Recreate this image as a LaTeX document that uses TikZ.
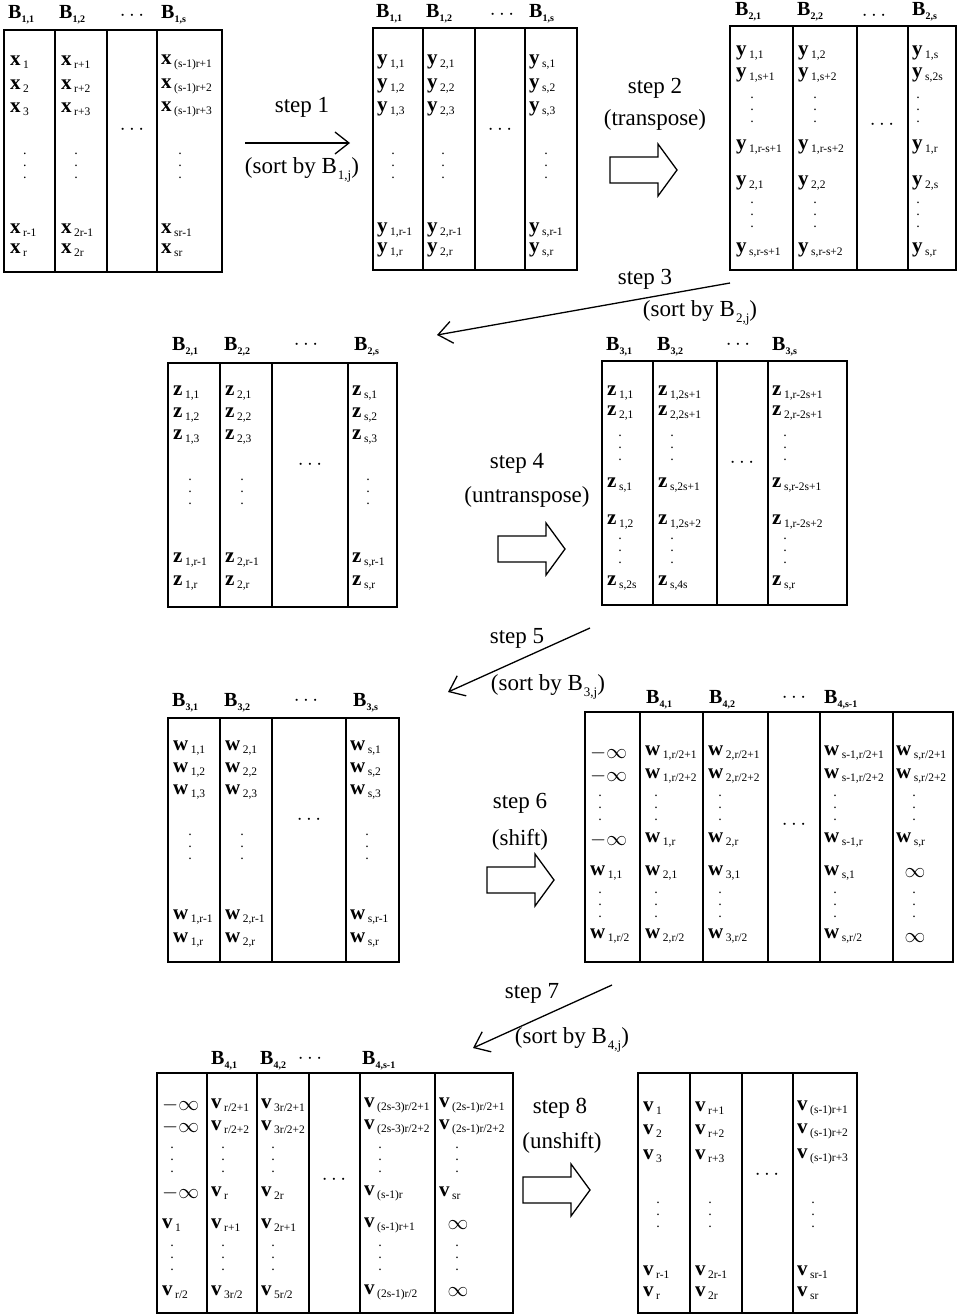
\documentclass[tikz,border=0pt]{standalone}
\usepackage{fontspec}
\setmainfont{Liberation Serif}
\usetikzlibrary{arrows.meta}

\newcommand{\cellv}[2]{\textbf{#1}\kern2.5pt\raisebox{-3pt}{\fontsize{11.5}{11.5}\selectfont #2}}
\newcommand{\hdrB}[1]{\textbf{B}\raisebox{-4pt}{\fontsize{10}{10}\selectfont\bfseries #1}}
\newcommand{\sortB}[1]{B\kern1pt\raisebox{-6pt}{\fontsize{13}{13}\selectfont #1}}
\newcommand{\vdotz}{\vbox{\baselineskip=12pt\lineskiplimit=0pt\hbox{.}\hbox{.}\hbox{.}}}

\begin{document}
\begin{tikzpicture}[x=1pt, y=-1pt,
    box/.style={line width=1.3pt},
    cell/.style={anchor=west, inner sep=0pt, font=\fontsize{21}{23}\selectfont},
    hdr/.style={anchor=west, inner sep=0pt, font=\fontsize{20}{22}\selectfont},
    ell/.style={inner sep=0pt, font=\fontsize{20}{22}\selectfont},
    dts/.style={inner sep=0pt, font=\fontsize{14}{14}\selectfont},
    lbl/.style={inner sep=0pt, font=\fontsize{23}{26}\selectfont},
    sortarrow/.style={line width=1.3pt, -{Straight Barb[length=14pt,width=22pt,line width=1.3pt]}},
    fatarrow/.pic={\draw[line width=1.3pt] (0,-13) -- (48,-13) -- (48,-26) -- (67,0) -- (48,26) -- (48,13) -- (0,13) -- cycle;}]
  \useasboundingbox (0,0) rectangle (958,1316);

  %% input x
  \draw[box] (4,30) rectangle (222,272);
  \foreach \x in {55,107,157} \draw[box] (\x,30) -- (\x,272);
  \node[hdr] (a-h1) at (8,15) {\hdrB{1,1}};
  \node[hdr] (a-h2) at (59,15) {\hdrB{1,2}};
  \node[ell] (a-h3) at (132,16) {$\cdots$};
  \node[hdr] (a-h4) at (161,15) {\hdrB{1,s}};
  \foreach \y/\txt [count=\i] in {62/{\cellv{x}{1}},86/{\cellv{x}{2}},109/{\cellv{x}{3}},230/{\cellv{x}{r-1}},250/{\cellv{x}{r}}}
    \node[cell] (a-c1-\i) at (10,\y) {\txt};
  \foreach \y/\txt [count=\i] in {62/{\cellv{x}{r+1}},86/{\cellv{x}{r+2}},109/{\cellv{x}{r+3}},230/{\cellv{x}{2r-1}},250/{\cellv{x}{2r}}}
    \node[cell] (a-c2-\i) at (61,\y) {\txt};
  \foreach \y/\txt [count=\i] in {62/{\cellv{x}{(s-1)r+1}},86/{\cellv{x}{(s-1)r+2}},109/{\cellv{x}{(s-1)r+3}},230/{\cellv{x}{sr-1}},250/{\cellv{x}{sr}}}
    \node[cell] (a-c4-\i) at (161,\y) {\txt};
  \foreach \x [count=\i] in {25,76,180} \node[dts] (a-d\i) at (\x,166) {\vdotz};
  \node[ell] (a-e) at (132,130) {$\cdots$};

  %% step 1
  \coordinate (s1a) at (245,143);
  \coordinate (s1b) at (350,143);
  \draw[sortarrow] (s1a) -- (s1b);
  \node[lbl] (s1t) at (302,107) {step 1};
  \node[lbl] (s1s) at (302,170) {(sort by \sortB{1,j})};

  %% y
  \draw[box] (373,28) rectangle (577,270);
  \foreach \x in {423,475,525} \draw[box] (\x,28) -- (\x,270);
  \node[hdr] (b-h1) at (376,14) {\hdrB{1,1}};
  \node[hdr] (b-h2) at (426,14) {\hdrB{1,2}};
  \node[ell] (b-h3) at (502,15) {$\cdots$};
  \node[hdr] (b-h4) at (529,14) {\hdrB{1,s}};
  \foreach \y/\txt [count=\i] in {62/{\cellv{y}{1,1}},86/{\cellv{y}{1,2}},109/{\cellv{y}{1,3}},230/{\cellv{y}{1,r-1}},250/{\cellv{y}{1,r}}}
    \node[cell] (b-c1-\i) at (377,\y) {\txt};
  \foreach \y/\txt [count=\i] in {62/{\cellv{y}{2,1}},86/{\cellv{y}{2,2}},109/{\cellv{y}{2,3}},230/{\cellv{y}{2,r-1}},250/{\cellv{y}{2,r}}}
    \node[cell] (b-c2-\i) at (427,\y) {\txt};
  \foreach \y/\txt [count=\i] in {62/{\cellv{y}{s,1}},86/{\cellv{y}{s,2}},109/{\cellv{y}{s,3}},230/{\cellv{y}{s,r-1}},250/{\cellv{y}{s,r}}}
    \node[cell] (b-c4-\i) at (529,\y) {\txt};
  \foreach \x [count=\i] in {393,443,546} \node[dts] (b-d\i) at (\x,166) {\vdotz};
  \node[ell] (b-e) at (500,130) {$\cdots$};

  %% step 2
  \node[lbl] (s2t) at (655,88) {step 2};
  \node[lbl] (s2s) at (655,120) {(transpose)};
  \pic (s2p) at (610,170) {fatarrow};

  %% y transposed
  \draw[box] (730,26) rectangle (956,270);
  \foreach \x in {793,857,908} \draw[box] (\x,26) -- (\x,270);
  \node[hdr] (c-h1) at (735,12) {\hdrB{2,1}};
  \node[hdr] (c-h2) at (797,12) {\hdrB{2,2}};
  \node[ell] (c-h3) at (874,16) {$\cdots$};
  \node[hdr] (c-h4) at (912,12) {\hdrB{2,s}};
  \foreach \y/\txt [count=\i] in {53/{\cellv{y}{1,1}},75/{\cellv{y}{1,s+1}},147/{\cellv{y}{1,r-s+1}},183/{\cellv{y}{2,1}},250/{\cellv{y}{s,r-s+1}}}
    \node[cell] (c-c1-\i) at (736,\y) {\txt};
  \foreach \y/\txt [count=\i] in {53/{\cellv{y}{1,2}},75/{\cellv{y}{1,s+2}},147/{\cellv{y}{1,r-s+2}},183/{\cellv{y}{2,2}},250/{\cellv{y}{s,r-s+2}}}
    \node[cell] (c-c2-\i) at (798,\y) {\txt};
  \foreach \y/\txt [count=\i] in {53/{\cellv{y}{1,s}},75/{\cellv{y}{s,2s}},147/{\cellv{y}{1,r}},183/{\cellv{y}{2,s}},250/{\cellv{y}{s,r}}}
    \node[cell] (c-c4-\i) at (912,\y) {\txt};
  \foreach \x [count=\i] in {752,815,918} {
    \node[dts] (c-d\i) at (\x,110) {\vdotz};
    \node[dts] (c-f\i) at (\x,215) {\vdotz};
  }
  \node[ell] (c-e) at (882,125) {$\cdots$};

  %% step 3
  \coordinate (s3a) at (730,283);
  \coordinate (s3b) at (437,335);
  \draw[sortarrow] (s3a) -- (s3b);
  \node[lbl] (s3t) at (645,279) {step 3};
  \node[lbl] (s3s) at (700,313) {(sort by \sortB{2,j})};

  %% z
  \draw[box] (168,363) rectangle (397,607);
  \foreach \x in {220,272,348} \draw[box] (\x,363) -- (\x,607);
  \node[hdr] (d-h1) at (172,347) {\hdrB{2,1}};
  \node[hdr] (d-h2) at (224,347) {\hdrB{2,2}};
  \node[ell] (d-h3) at (306,345) {$\cdots$};
  \node[hdr] (d-h4) at (354,347) {\hdrB{2,s}};
  \foreach \y/\txt [count=\i] in {393/{\cellv{z}{1,1}},415/{\cellv{z}{1,2}},437/{\cellv{z}{1,3}},560/{\cellv{z}{1,r-1}},583/{\cellv{z}{1,r}}}
    \node[cell] (d-c1-\i) at (173,\y) {\txt};
  \foreach \y/\txt [count=\i] in {393/{\cellv{z}{2,1}},415/{\cellv{z}{2,2}},437/{\cellv{z}{2,3}},560/{\cellv{z}{2,r-1}},583/{\cellv{z}{2,r}}}
    \node[cell] (d-c2-\i) at (225,\y) {\txt};
  \foreach \y/\txt [count=\i] in {393/{\cellv{z}{s,1}},415/{\cellv{z}{s,2}},437/{\cellv{z}{s,3}},560/{\cellv{z}{s,r-1}},583/{\cellv{z}{s,r}}}
    \node[cell] (d-c4-\i) at (352,\y) {\txt};
  \foreach \x [count=\i] in {190,242,368} \node[dts] (d-d\i) at (\x,492) {\vdotz};
  \node[ell] (d-e) at (310,465) {$\cdots$};

  %% step 4
  \node[lbl] (s4t) at (517,463) {step 4};
  \node[lbl] (s4s) at (527,497) {(untranspose)};
  \pic (s4p) at (498,549) {fatarrow};

  %% z untransposed
  \draw[box] (602,361) rectangle (847,605);
  \foreach \x in {653,717,768} \draw[box] (\x,361) -- (\x,605);
  \node[hdr] (e-h1) at (606,347) {\hdrB{3,1}};
  \node[hdr] (e-h2) at (657,347) {\hdrB{3,2}};
  \node[ell] (e-h3) at (738,345) {$\cdots$};
  \node[hdr] (e-h4) at (772,347) {\hdrB{3,s}};
  \foreach \y/\txt [count=\i] in {393/{\cellv{z}{1,1}},413/{\cellv{z}{2,1}},485/{\cellv{z}{s,1}},522/{\cellv{z}{1,2}},583/{\cellv{z}{s,2s}}}
    \node[cell] (e-c1-\i) at (607,\y) {\txt};
  \foreach \y/\txt [count=\i] in {393/{\cellv{z}{1,2s+1}},413/{\cellv{z}{2,2s+1}},485/{\cellv{z}{s,2s+1}},522/{\cellv{z}{1,2s+2}},583/{\cellv{z}{s,4s}}}
    \node[cell] (e-c2-\i) at (658,\y) {\txt};
  \foreach \y/\txt [count=\i] in {393/{\cellv{z}{1,r-2s+1}},413/{\cellv{z}{2,r-2s+1}},485/{\cellv{z}{s,r-2s+1}},522/{\cellv{z}{1,r-2s+2}},583/{\cellv{z}{s,r}}}
    \node[cell] (e-c4-\i) at (772,\y) {\txt};
  \foreach \x [count=\i] in {620,672,785} {
    \node[dts] (e-d\i) at (\x,448) {\vdotz};
    \node[dts] (e-f\i) at (\x,551) {\vdotz};
  }
  \node[ell] (e-e) at (742,463) {$\cdots$};

  %% step 5
  \coordinate (s5a) at (590,628);
  \coordinate (s5b) at (448,692);
  \draw[sortarrow] (s5a) -- (s5b);
  \node[lbl] (s5t) at (517,638) {step 5};
  \node[lbl] (s5s) at (548,687) {(sort by \sortB{3,j})};

  %% w
  \draw[box] (168,718) rectangle (399,962);
  \foreach \x in {220,272,346} \draw[box] (\x,718) -- (\x,962);
  \node[hdr] (f-h1) at (172,703) {\hdrB{3,1}};
  \node[hdr] (f-h2) at (224,703) {\hdrB{3,2}};
  \node[ell] (f-h3) at (306,701) {$\cdots$};
  \node[hdr] (f-h4) at (353,703) {\hdrB{3,s}};
  \foreach \y/\txt [count=\i] in {748/{\cellv{w}{1,1}},770/{\cellv{w}{1,2}},792/{\cellv{w}{1,3}},917/{\cellv{w}{1,r-1}},940/{\cellv{w}{1,r}}}
    \node[cell] (f-c1-\i) at (173,\y) {\txt};
  \foreach \y/\txt [count=\i] in {748/{\cellv{w}{2,1}},770/{\cellv{w}{2,2}},792/{\cellv{w}{2,3}},917/{\cellv{w}{2,r-1}},940/{\cellv{w}{2,r}}}
    \node[cell] (f-c2-\i) at (225,\y) {\txt};
  \foreach \y/\txt [count=\i] in {748/{\cellv{w}{s,1}},770/{\cellv{w}{s,2}},792/{\cellv{w}{s,3}},917/{\cellv{w}{s,r-1}},940/{\cellv{w}{s,r}}}
    \node[cell] (f-c4-\i) at (350,\y) {\txt};
  \foreach \x [count=\i] in {190,242,367} \node[dts] (f-d\i) at (\x,847) {\vdotz};
  \node[ell] (f-e) at (309,820) {$\cdots$};

  %% step 6
  \node[lbl] (s6t) at (520,803) {step 6};
  \node[lbl] (s6s) at (520,840) {(shift)};
  \pic (s6p) at (487,880) {fatarrow};

  %% w shifted
  \draw[box] (585,712) rectangle (953,962);
  \foreach \x in {640,703,768,820,893} \draw[box] (\x,712) -- (\x,962);
  \node[hdr] (g-h1) at (646,700) {\hdrB{4,1}};
  \node[hdr] (g-h2) at (709,700) {\hdrB{4,2}};
  \node[ell] (g-h3) at (794,698) {$\cdots$};
  \node[hdr] (g-h4) at (824,700) {\hdrB{4,s-1}};
  \foreach \y/\txt [count=\i] in {753/{$-\infty$},776/{$-\infty$},840/{$-\infty$},873/{\cellv{w}{1,1}},936/{\cellv{w}{1,r/2}}}
    \node[cell] (g-c0-\i) at (590,\y) {\txt};
  \foreach \y/\txt [count=\i] in {753/{\cellv{w}{1,r/2+1}},776/{\cellv{w}{1,r/2+2}},840/{\cellv{w}{1,r}},873/{\cellv{w}{2,1}},936/{\cellv{w}{2,r/2}}}
    \node[cell] (g-c1-\i) at (645,\y) {\txt};
  \foreach \y/\txt [count=\i] in {753/{\cellv{w}{2,r/2+1}},776/{\cellv{w}{2,r/2+2}},840/{\cellv{w}{2,r}},873/{\cellv{w}{3,1}},936/{\cellv{w}{3,r/2}}}
    \node[cell] (g-c2-\i) at (708,\y) {\txt};
  \foreach \y/\txt [count=\i] in {753/{\cellv{w}{s-1,r/2+1}},776/{\cellv{w}{s-1,r/2+2}},840/{\cellv{w}{s-1,r}},873/{\cellv{w}{s,1}},936/{\cellv{w}{s,r/2}}}
    \node[cell] (g-c4-\i) at (824,\y) {\txt};
  \foreach \y/\txt [count=\i] in {753/{\cellv{w}{s,r/2+1}},776/{\cellv{w}{s,r/2+2}},840/{\cellv{w}{s,r}}}
    \node[cell] (g-c5-\i) at (896,\y) {\txt};
  \node[ell] (g-i1) at (915,873) {$\infty$};
  \node[ell] (g-i2) at (915,938) {$\infty$};
  \foreach \x [count=\i] in {600,656,720,835,914} {
    \node[dts] (g-d\i) at (\x,808) {\vdotz};
    \node[dts] (g-f\i) at (\x,905) {\vdotz};
  }
  \node[ell] (g-e) at (794,825) {$\cdots$};

  %% step 7
  \coordinate (s7a) at (612,985);
  \coordinate (s7b) at (473,1048);
  \draw[sortarrow] (s7a) -- (s7b);
  \node[lbl] (s7t) at (532,993) {step 7};
  \node[lbl] (s7s) at (572,1040) {(sort by \sortB{4,j})};

  %% v shifted
  \draw[box] (157,1073) rectangle (513,1313);
  \foreach \x in {207,257,309,360,435} \draw[box] (\x,1073) -- (\x,1313);
  \node[hdr] (h-h1) at (211,1061) {\hdrB{4,1}};
  \node[hdr] (h-h2) at (260,1061) {\hdrB{4,2}};
  \node[ell] (h-h3) at (310,1059) {$\cdots$};
  \node[hdr] (h-h4) at (362,1061) {\hdrB{4,s-1}};
  \foreach \y/\txt [count=\i] in {1105/{$-\infty$},1127/{$-\infty$},1193/{$-\infty$},1225/{\cellv{v}{1}},1292/{\cellv{v}{r/2}}}
    \node[cell] (h-c0-\i) at (162,\y) {\txt};
  \foreach \y/\txt [count=\i] in {1105/{\cellv{v}{r/2+1}},1127/{\cellv{v}{r/2+2}},1193/{\cellv{v}{r}},1225/{\cellv{v}{r+1}},1292/{\cellv{v}{3r/2}}}
    \node[cell] (h-c1-\i) at (211,\y) {\txt};
  \foreach \y/\txt [count=\i] in {1105/{\cellv{v}{3r/2+1}},1127/{\cellv{v}{3r/2+2}},1193/{\cellv{v}{2r}},1225/{\cellv{v}{2r+1}},1292/{\cellv{v}{5r/2}}}
    \node[cell] (h-c2-\i) at (261,\y) {\txt};
  \foreach \y/\txt [count=\i] in {1105/{\cellv{v}{(2s-3)r/2+1}},1127/{\cellv{v}{(2s-3)r/2+2}},1193/{\cellv{v}{(s-1)r}},1225/{\cellv{v}{(s-1)r+1}},1292/{\cellv{v}{(2s-1)r/2}}}
    \node[cell] (h-c4-\i) at (364,\y) {\txt};
  \foreach \y/\txt [count=\i] in {1105/{\cellv{v}{(2s-1)r/2+1}},1127/{\cellv{v}{(2s-1)r/2+2}},1193/{\cellv{v}{sr}}}
    \node[cell] (h-c5-\i) at (439,\y) {\txt};
  \node[ell] (h-i1) at (458,1225) {$\infty$};
  \node[ell] (h-i2) at (458,1292) {$\infty$};
  \foreach \x [count=\i] in {172,223,273,380,457} {
    \node[dts] (h-d\i) at (\x,1160) {\vdotz};
    \node[dts] (h-f\i) at (\x,1258) {\vdotz};
  }
  \node[ell] (h-e) at (334,1180) {$\cdots$};

  %% step 8
  \node[lbl] (s8t) at (560,1108) {step 8};
  \node[lbl] (s8s) at (562,1143) {(unshift)};
  \pic (s8p) at (523,1190) {fatarrow};

  %% v
  \draw[box] (638,1073) rectangle (857,1313);
  \foreach \x in {690,742,793} \draw[box] (\x,1073) -- (\x,1313);
  \foreach \y/\txt [count=\i] in {1108/{\cellv{v}{1}},1131/{\cellv{v}{2}},1156/{\cellv{v}{3}},1272/{\cellv{v}{r-1}},1293/{\cellv{v}{r}}}
    \node[cell] (i-c1-\i) at (643,\y) {\txt};
  \foreach \y/\txt [count=\i] in {1108/{\cellv{v}{r+1}},1131/{\cellv{v}{r+2}},1156/{\cellv{v}{r+3}},1272/{\cellv{v}{2r-1}},1293/{\cellv{v}{2r}}}
    \node[cell] (i-c2-\i) at (695,\y) {\txt};
  \foreach \y/\txt [count=\i] in {1108/{\cellv{v}{(s-1)r+1}},1131/{\cellv{v}{(s-1)r+2}},1156/{\cellv{v}{(s-1)r+3}},1272/{\cellv{v}{sr-1}},1293/{\cellv{v}{sr}}}
    \node[cell] (i-c4-\i) at (797,\y) {\txt};
  \foreach \x [count=\i] in {658,710,813} \node[dts] (i-d\i) at (\x,1215) {\vdotz};
  \node[ell] (i-e) at (767,1175) {$\cdots$};
\end{tikzpicture}
\end{document}
